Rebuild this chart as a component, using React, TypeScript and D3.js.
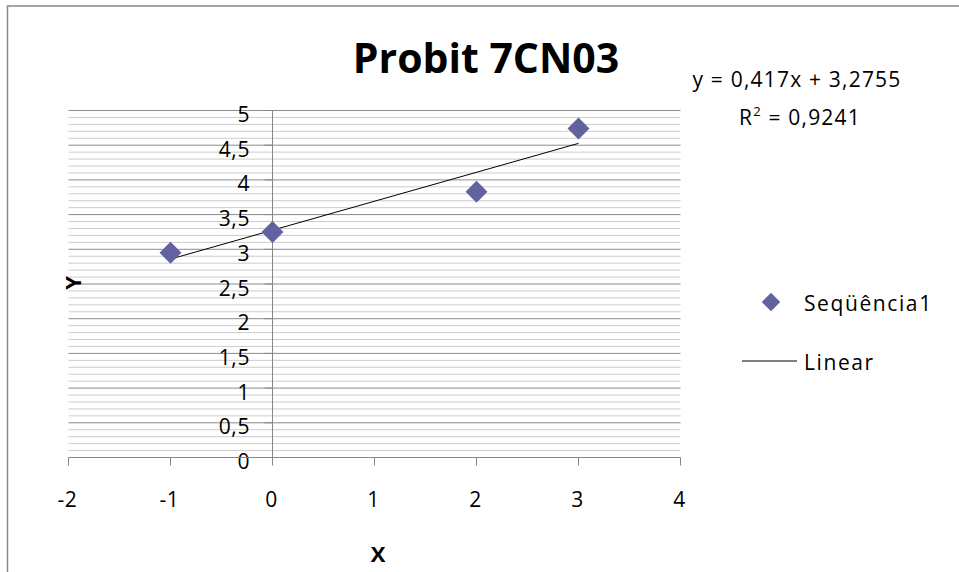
import React from "react";
import * as d3 from "d3";

// Probit 7CN03 – scatter points with linear trendline (Excel style)
const xValues = [-1, 0, 2, 3];
const yValues = [2.95, 3.25, 3.83, 4.74];
const xTicks = [-2, -1, 0, 1, 2, 3, 4];
const yTicks = [0, 0.5, 1, 1.5, 2, 2.5, 3, 3.5, 4, 4.5, 5];
const trendSlope = 0.417;
const trendIntercept = 3.2755;
const trendRange = [-1, 3];
const equationLabel = "y = 0,417x + 3,2755";
const rSquaredValue = "0,9241";
const seriesName = "Seqüência1";
const trendName = "Linear";
const chartTitle = "Probit 7CN03";

const width = 959;
const height = 572;
const font = "'Open Sans', 'DejaVu Sans', sans-serif";

const ptLocale = d3.formatLocale({
  decimal: ",",
  thousands: ".",
  grouping: [3],
  currency: ["", ""],
  minus: "-",
});
const fmt = ptLocale.format("~g");

const App: React.FC = () => {
  const x = d3.scaleLinear().domain([-2, 4]).range([68.5, 680.5]);
  const y = d3.scaleLinear().domain([0, 5]).range([457.5, 110.5]);

  // minor gridlines every 0.1, skipping the major ones
  const minorTicks = d3
    .range(1, 50)
    .filter((i) => i % 5 !== 0)
    .map((i) => i / 10);

  const points = xValues.map((xv, i) => ({ x: xv, y: yValues[i] }));
  const marker = d3.symbol().type(d3.symbolSquare).size(240)();
  const legendMarker = d3.symbol().type(d3.symbolSquare).size(170)();

  const trendLine = d3
    .line<number>()
    .x((d) => x(d))
    .y((d) => y(trendSlope * d + trendIntercept));

  const x0 = x(0);
  const y0 = y(0);

  return (
    <svg
      width={width}
      height={height}
      style={{ position: "absolute", left: 0, top: 0, background: "#fff" }}
      fontFamily={font}
    >
      {/* chart area border */}
      <rect
        x={7.5}
        y={6}
        width={width + 20}
        height={height + 20}
        fill="#fff"
        stroke="#888"
        strokeWidth={1.5}
      />

      {/* title */}
      <text
        x={486}
        y={73}
        textAnchor="middle"
        fontSize={41}
        fontWeight="bold"
        fill="#000"
      >
        {chartTitle}
      </text>

      {/* gridlines */}
      {minorTicks.map((t) => (
        <line
          key={"m" + t}
          x1={x(-2)}
          x2={x(4)}
          y1={y(t)}
          y2={y(t)}
          stroke="#cccccc"
          strokeWidth={1}
        />
      ))}
      {yTicks.slice(1).map((t) => (
        <line
          key={"g" + t}
          x1={x(-2)}
          x2={x(4)}
          y1={y(t)}
          y2={y(t)}
          stroke="#8c8c8c"
          strokeWidth={1}
        />
      ))}

      {/* y axis */}
      <line x1={x0} x2={x0} y1={y(5)} y2={y0} stroke="#868686" />
      {yTicks.map((t) => (
        <g key={"yt" + t}>
          <line x1={x0 - 8} x2={x0} y1={y(t)} y2={y(t)} stroke="#868686" />
          <text
            x={250}
            y={y(t) + 11.5}
            textAnchor="end"
            fontSize={21}
            letterSpacing={0.6}
            fill="#000"
          >
            {fmt(t)}
          </text>
        </g>
      ))}

      {/* x axis */}
      <line x1={x(-2)} x2={x(4)} y1={y0} y2={y0} stroke="#868686" />
      {xTicks.map((t) => (
        <g key={"xt" + t}>
          <line x1={x(t)} x2={x(t)} y1={y0} y2={y0 + 8} stroke="#868686" />
          <text
            x={x(t) - 1}
            y={507}
            textAnchor="middle"
            fontSize={21}
            letterSpacing={0.6}
            fill="#000"
          >
            {fmt(t)}
          </text>
        </g>
      ))}

      {/* axis titles */}
      <text
        x={378}
        y={562}
        textAnchor="middle"
        fontSize={22}
        fontWeight="bold"
        fill="#000"
      >
        X
      </text>
      <text
        transform="translate(81,283) rotate(-90)"
        textAnchor="middle"
        fontSize={22}
        fontWeight="bold"
        fill="#000"
      >
        Y
      </text>

      {/* trendline */}
      <path
        d={trendLine(trendRange) || ""}
        fill="none"
        stroke="#000"
        strokeWidth={1}
      />

      {/* points */}
      {points.map((p, i) => (
        <path
          key={"p" + i}
          d={marker || ""}
          transform={`translate(${x(p.x)},${y(p.y)}) rotate(45)`}
          fill="#62629f"
        />
      ))}

      {/* equation */}
      <text
        x={797}
        y={87}
        textAnchor="middle"
        fontSize={21}
        letterSpacing={1.2}
        fill="#000"
      >
        {equationLabel}
      </text>
      <text
        x={800}
        y={125}
        textAnchor="middle"
        fontSize={21}
        letterSpacing={1.2}
        fill="#000"
      >
        R
        <tspan fontSize={13} dy={-9}>
          2
        </tspan>
        <tspan dy={9}>{" = " + rSquaredValue}</tspan>
      </text>

      {/* legend */}
      <path
        d={legendMarker || ""}
        transform="translate(771,302) rotate(45)"
        fill="#62629f"
      />
      <text x={804} y={311} fontSize={21} letterSpacing={1.6} fill="#000">
        {seriesName}
      </text>
      <line x1={742} x2={797} y1={361} y2={361} stroke="#000" />
      <text x={804} y={370} fontSize={21} letterSpacing={1.6} fill="#000">
        {trendName}
      </text>
    </svg>
  );
};

export default App;
